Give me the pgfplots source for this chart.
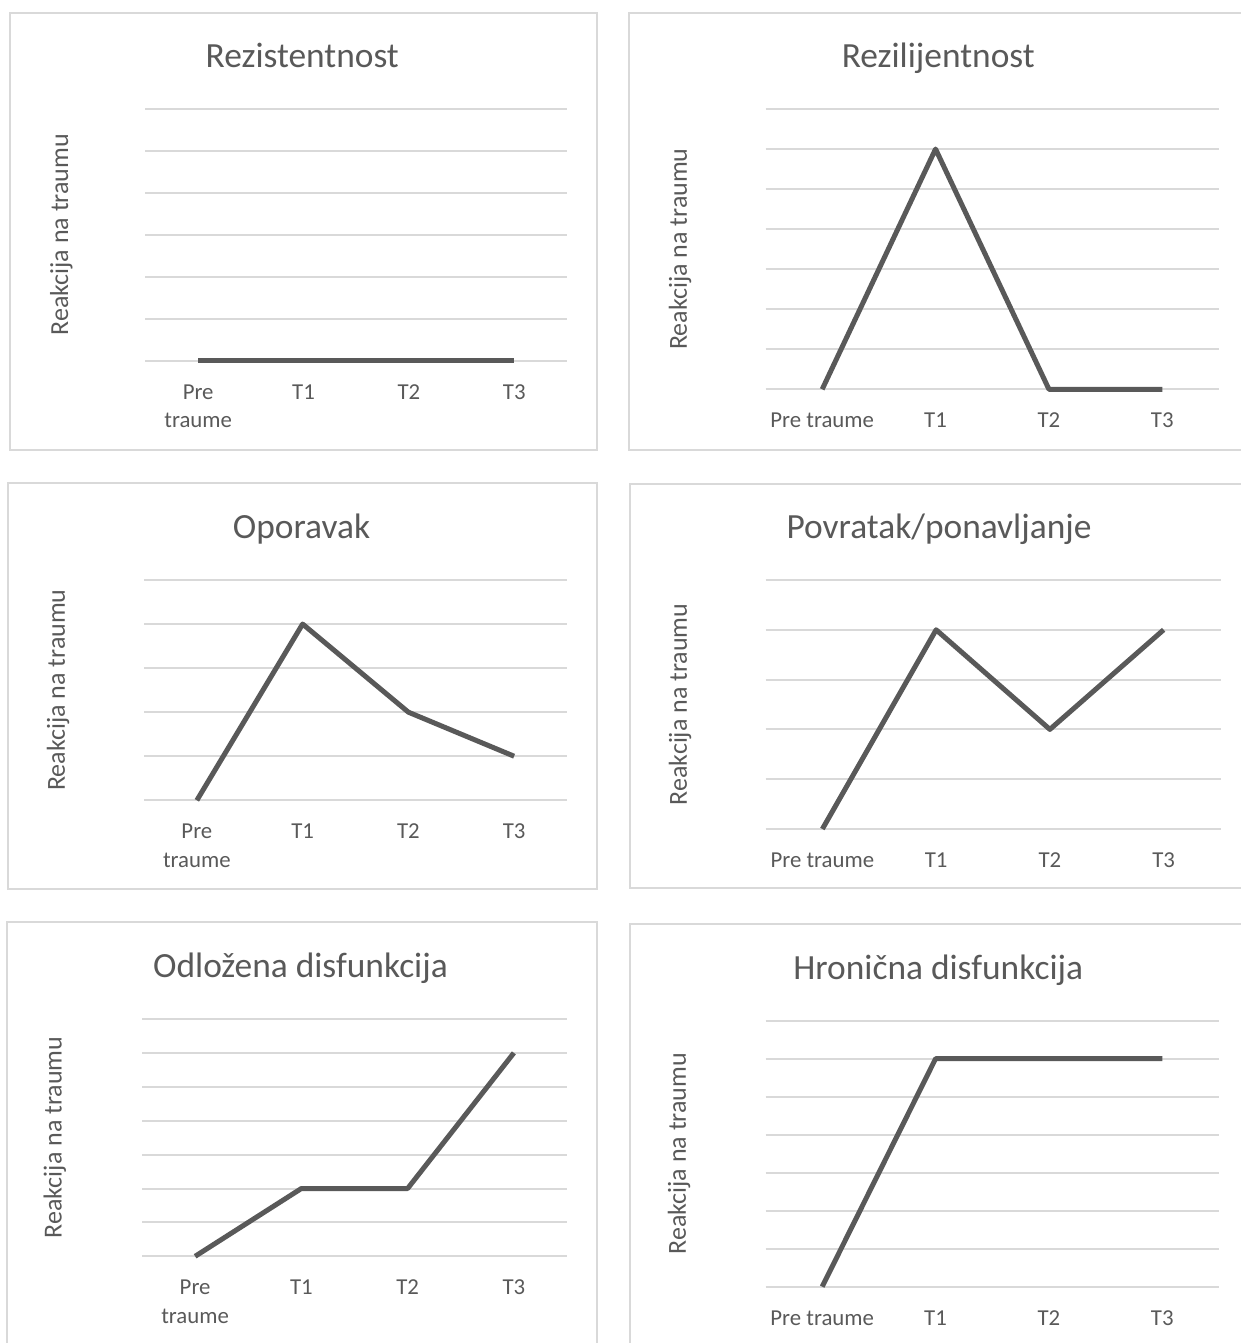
\documentclass[border=0pt]{standalone}
\usepackage{fontspec}
\setmainfont{Carlito}
\usepackage{pgfplots}
\pgfplotsset{compat=1.18}
\definecolor{linegray}{HTML}{595959}
\definecolor{gridgray}{HTML}{D9D9D9}
\definecolor{textgray}{HTML}{595959}

\pgfplotsset{
  panel/.style={
    scale only axis,
    anchor=south west,
    xmin=-0.5, xmax=3.5, ymin=0,
    xtick={0,1,2,3},
    ytick distance=1,
    yticklabels={},
    ymajorgrids,
    major grid style={draw=gridgray, line width=1pt},
    axis line style={draw=none},
    tick style={draw=none},
    major tick length=0pt,
    clip=false,
    % the default title style already adds yshift=6pt
    title style={font=\fontsize{17.7}{21}\selectfont, text=textgray,
      at={(axis description cs:0.5,1)}, anchor=base, xshift=-27pt, yshift=14.75pt},
    xticklabel style={font=\fontsize{11.4}{14.3}\selectfont, text=textgray,
      align=center, anchor=north, inner sep=0pt, yshift=-11.7pt},
    ylabel={Reakcija na traumu},
    ylabel style={font=\fontsize{13}{15}\selectfont, text=textgray, anchor=center},
  },
  trend/.style={draw=linegray, line width=2.5pt, line join=round, mark=none},
}

\begin{document}
\begin{tikzpicture}
\useasboundingbox (0pt,0pt) rectangle (620.5pt,671.5pt);
\clip (0pt,0pt) rectangle (620.5pt,671.5pt);

% panel frames
\draw[gridgray, line width=1pt] (5pt,446.25pt) rectangle (298.5pt,665pt);
\draw[gridgray, line width=1pt] (314.5pt,446.25pt) rectangle (630pt,665pt);
\draw[gridgray, line width=1pt] (3.75pt,226.75pt) rectangle (298.5pt,429.75pt);
\draw[gridgray, line width=1pt] (315pt,227.25pt) rectangle (630pt,429.5pt);
\draw[gridgray, line width=1pt] (3.5pt,-10pt) rectangle (298.5pt,210.25pt);
\draw[gridgray, line width=1pt] (314.75pt,-10pt) rectangle (630pt,209.5pt);

% Rezistentnost
\begin{axis}[panel, at={(72.75pt,491.15pt)}, width=210.75pt, height=125.85pt, ymax=6,
  title={Rezistentnost}, xticklabels={{Pre\\traume},T1,T2,T3},
  ylabel style={at={(axis description cs:-0.200,0.5)}}]
\addplot[trend] coordinates {(0,0) (1,0) (2,0) (3,0)};
\end{axis}

% Rezilijentnost
\begin{axis}[panel, at={(382.75pt,476.85pt)}, width=226.75pt, height=140.15pt, ymax=7,
  title={Rezilijentnost}, xticklabels={Pre traume,T1,T2,T3},
  ylabel style={at={(axis description cs:-0.1885,0.5)}}]
\addplot[trend] coordinates {(0,0) (1,6) (2,0) (3,0)};
\end{axis}

% Oporavak
\begin{axis}[panel, at={(72pt,271.35pt)}, width=211.5pt, height=110.15pt, ymax=5,
  title={Oporavak}, xticklabels={{Pre\\traume},T1,T2,T3},
  ylabel style={at={(axis description cs:-0.2033,0.5)}}]
\addplot[trend] coordinates {(0,0) (1,4) (2,2) (3,1)};
\end{axis}

% Povratak/ponavljanje
\begin{axis}[panel, at={(382.75pt,257pt)}, width=227.5pt, height=124.5pt, ymax=5,
  title={Povratak/ponavljanje}, xticklabels={Pre traume,T1,T2,T3},
  ylabel style={at={(axis description cs:-0.1877,0.5)}}]
\addplot[trend] coordinates {(0,0) (1,4) (2,2) (3,4)};
\end{axis}

% Odlozena disfunkcija
\begin{axis}[panel, at={(71pt,43.35pt)}, width=212.5pt, height=118.65pt, ymax=7,
  title={Odložena disfunkcija}, xticklabels={{Pre\\traume},T1,T2,T3},
  ylabel style={at={(axis description cs:-0.205,0.5)}}]
\addplot[trend] coordinates {(0,0) (1,2) (2,2) (3,6)};
\end{axis}

% Hronicna disfunkcija
\begin{axis}[panel, at={(382.75pt,28.15pt)}, width=226.75pt, height=133pt, ymax=7,
  title={Hronična disfunkcija}, xticklabels={Pre traume,T1,T2,T3},
  ylabel style={at={(axis description cs:-0.1907,0.5)}}]
\addplot[trend] coordinates {(0,0) (1,6) (2,6) (3,6)};
\end{axis}
\end{tikzpicture}
\end{document}
